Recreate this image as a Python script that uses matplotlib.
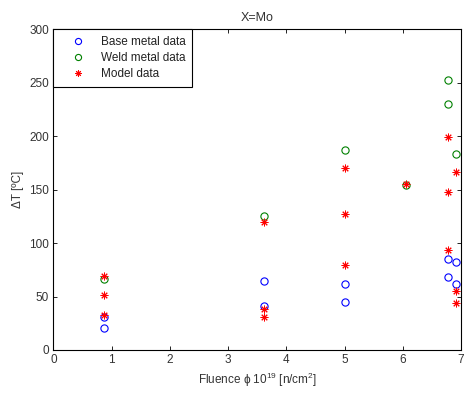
import matplotlib
matplotlib.use("Agg")
import matplotlib.pyplot as plt

plt.rcParams['font.family'] = ['Liberation Sans', 'DejaVu Sans']
plt.rcParams['mathtext.fontset'] = 'custom'
plt.rcParams['mathtext.rm'] = 'Liberation Sans'
plt.rcParams['mathtext.it'] = 'Liberation Sans:italic'
plt.rcParams['mathtext.bf'] = 'Liberation Sans:bold'

# Base metal measurements
base_x = [0.87, 0.87, 3.62, 3.62, 5.0, 5.0, 6.78, 6.78, 6.92, 6.92]
base_y = [30.5, 21, 64.5, 41.5, 62, 44.5, 85.5, 68, 82, 62]

# Weld metal measurements
weld_x = [0.87, 3.62, 5.0, 6.05, 6.78, 6.78, 6.92]
weld_y = [66, 125, 187, 154.5, 252.5, 230, 183.5]

# Model predictions
model_x = [0.87, 0.87, 0.87, 3.62, 3.62, 3.62, 5.0, 5.0, 5.0, 6.05,
           6.78, 6.78, 6.78, 6.92, 6.92, 6.92]
model_y = [69, 51, 33, 119.5, 38.5, 31, 170.5, 127, 79.5, 155.5,
           199.5, 147.5, 93.5, 166.5, 55, 43.5]

x_ticks = [0, 1, 2, 3, 4, 5, 6, 7]
y_ticks = [0, 50, 100, 150, 200, 250, 300]

fig = plt.figure(figsize=(4.65, 3.94), dpi=100)
ax = fig.add_axes([0.1147, 0.1117, 0.8767, 0.8139])

ax.plot(base_x, base_y, linestyle='none', marker='o', markersize=5.2,
        markerfacecolor='none', markeredgecolor=(0, 0, 1), markeredgewidth=0.8,
        label='Base metal data')
ax.plot(weld_x, weld_y, linestyle='none', marker='o', markersize=5.2,
        markerfacecolor='none', markeredgecolor=(0, 0.5, 0), markeredgewidth=0.8,
        label='Weld metal data')
ax.plot(model_x, model_y, linestyle='none', marker=(8, 2, 0), markersize=5.5,
        markeredgecolor=(1, 0, 0), color=(1, 0, 0), markeredgewidth=0.7,
        label='Model data')

ax.set_xlim(0, 7)
ax.set_ylim(0, 300)
ax.set_xticks(x_ticks)
ax.set_yticks(y_ticks)
ax.tick_params(direction='in', length=3, width=0.6, top=True, right=True,
               labelsize=8.5, labelcolor='#333333', pad=3)
for sp in ax.spines.values():
    sp.set_linewidth(0.8)

ax.set_title('X=Mo', fontsize=9, color='#333333', pad=6)
ax.set_xlabel('Fluence ϕ 10$^{19}$ [n/cm$^{2}$]', fontsize=8.5, color='#333333', labelpad=3)
ax.set_ylabel('ΔT [ºC]', fontsize=8.5, color='#333333', labelpad=4)

leg = ax.legend(loc='upper left', borderaxespad=0, fontsize=8.5, fancybox=False,
                framealpha=1, edgecolor='black', handletextpad=0.5,
                handlelength=3.0, borderpad=0.55, labelspacing=0.35,
                markerscale=0.85)
leg.get_frame().set_linewidth(0.8)
for t in leg.get_texts():
    t.set_color('#222222')

fig.savefig('out.png', dpi=100)
